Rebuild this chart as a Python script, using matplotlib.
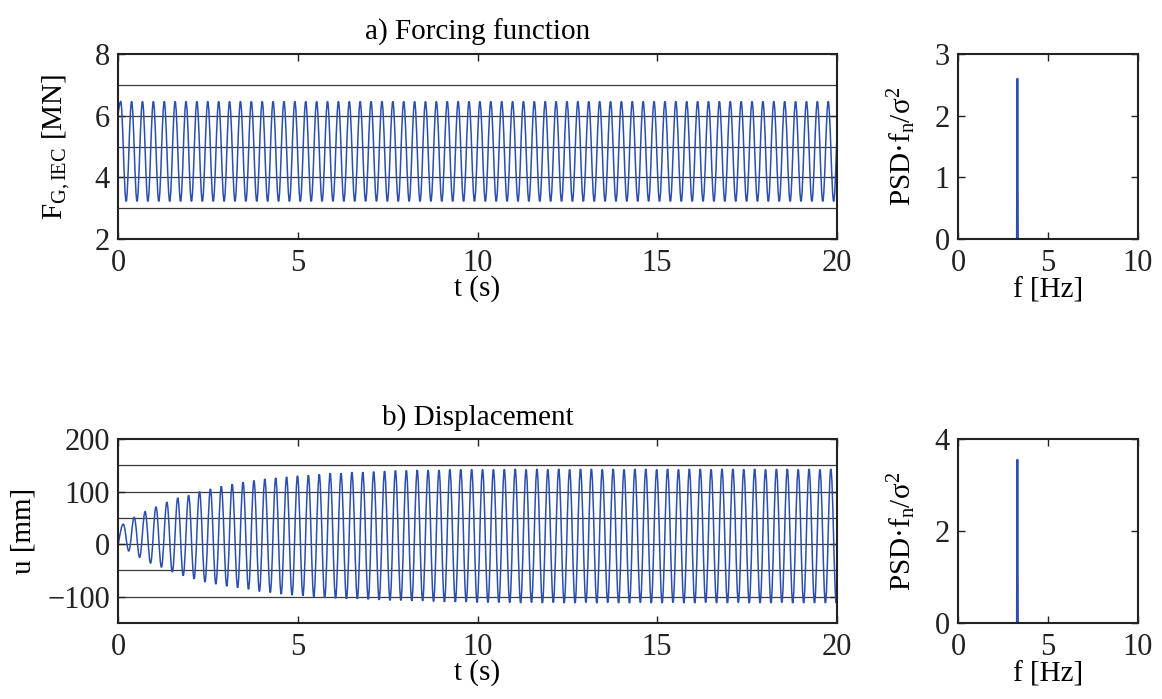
import numpy as np
import matplotlib
matplotlib.use("Agg")
import matplotlib.pyplot as plt
from matplotlib.path import Path
from matplotlib.patches import PathPatch

plt.rcParams["font.family"] = ["Liberation Serif", "DejaVu Serif"]
plt.rcParams["mathtext.fontset"] = "custom"
plt.rcParams["mathtext.rm"] = "Liberation Serif"
plt.rcParams["mathtext.it"] = "Liberation Serif:italic"
plt.rcParams["mathtext.bf"] = "Liberation Serif:bold"

# ---- data -------------------------------------------------------------
# excitation frequency of the harmonic load [Hz]
load_freq = 3.3

# a) forcing function: start value, time of first crest, crest / trough levels [MN]
force_start = [0.0, 6.1]
force_first_peak_t = 0.067
force_peaks = [6.46] * 67
force_troughs = [3.22] * 67

# b) displacement: start value, time of first crest, crest and trough per cycle [mm]
disp_start = [0.0, 0.0]
disp_first_peak_t = 0.14
disp_peaks = [38, 51, 62, 71, 80, 88, 93, 100, 105, 110, 114, 118, 121, 124,
              126, 128, 130, 131, 133, 135, 135, 137, 137, 138, 139, 140, 140,
              141, 141, 141, 142, 142, 142, 142, 142, 142, 143, 142, 143, 142,
              143, 142, 143, 143, 142, 143, 142, 143, 143, 142, 143, 142, 143,
              143, 142, 143, 143, 142, 143, 142, 143, 143, 142, 143, 142, 143,
              143]
disp_troughs = [-13, -25, -36, -44, -53, -60, -66, -72, -76, -80, -83, -86,
                -90, -92, -95, -97, -98, -100, -102, -103, -104, -104, -105,
                -106, -107, -107, -108, -108, -109, -110, -110, -110, -111,
                -111, -111, -111, -112, -111, -112, -111, -112, -112, -111,
                -112, -111, -112, -112, -111, -112, -112, -111, -112, -112,
                -111, -112, -112, -111, -112, -112, -112, -111, -112, -112,
                -112, -112, -112, -112]

# normalised power spectral densities
psd_freq = [0.0, 3.27, 3.30, 3.33, 10.0]
psd_force = [0.0, 0.0, 2.6, 0.0, 0.0]
psd_disp = [0.0, 0.0, 3.55, 0.0, 0.0]

# reference levels drawn across the time histories
force_levels = [3, 4, 5, 6, 7]
disp_levels = [-100, -50, 0, 50, 100, 150]

LINE = "#2b4fae"
REF = "#3a3a3a"
TICK_FS = 22
LABEL_FS = 21


def oscillation_path(start, first_peak_t, peaks, troughs, freq):
    """Smooth path through alternating crests and troughs (cubic Beziers)."""
    period = 1.0 / freq
    half = period / 2.0
    ext_t, ext_y = [], []
    for k, (p, q) in enumerate(zip(peaks, troughs)):
        ext_t += [first_peak_t + k * period, first_peak_t + k * period + half]
        ext_y += [p, q]
    verts = [tuple(start)]
    codes = [Path.MOVETO]
    t0, y0 = start
    t1, y1 = ext_t[0], ext_y[0]
    dt = t1 - t0
    verts += [(t0 + dt / 3, y0 + (y1 - y0) * 0.52), (t1 - dt / 3, y1), (t1, y1)]
    codes += [Path.CURVE4] * 3
    c = 0.3642
    for i in range(len(ext_t) - 1):
        t0, y0, t1, y1 = ext_t[i], ext_y[i], ext_t[i + 1], ext_y[i + 1]
        dt = t1 - t0
        verts += [(t0 + c * dt, y0), (t1 - c * dt, y1), (t1, y1)]
        codes += [Path.CURVE4] * 3
    return Path(verts, codes)


def style_axes(ax):
    ax.tick_params(direction="in", length=5, width=1.0, top=True, right=True,
                   labelsize=TICK_FS, colors="#222222")
    ax.tick_params(axis="x", pad=7)
    ax.tick_params(axis="y", pad=6)
    for s in ax.spines.values():
        s.set_linewidth(1.5)
        s.set_color("#222222")


fig = plt.figure(figsize=(11.62, 6.99), dpi=100)
W, H = 1162.0, 699.0


def add_ax(x0, x1, y0, y1):
    return fig.add_axes([x0 / W, 1 - y1 / H, (x1 - x0) / W, (y1 - y0) / H])


ax_f = add_ax(118.3, 836.7, 54, 239)
ax_fp = add_ax(958, 1138, 54, 239)
ax_u = add_ax(118.3, 836.7, 439, 623)
ax_up = add_ax(958, 1138, 439, 623)

PSD_LABEL = "PSD\u00b7f$_{\\mathrm{n}}$/\u03c3$^{\\mathrm{2}}$"

# a) forcing function
for lv in force_levels:
    ax_f.axhline(lv, color=REF, lw=0.9, zorder=1)
ax_f.add_patch(PathPatch(oscillation_path(force_start, force_first_peak_t,
                                          force_peaks, force_troughs, load_freq),
                         fill=False, edgecolor=LINE, lw=1.1, zorder=2))
ax_f.set_xlim(0, 20)
ax_f.set_ylim(2, 8)
ax_f.set_xticks([0, 5, 10, 15, 20])
ax_f.set_yticks([2, 4, 6, 8])
ax_f.set_xlabel("t (s)", fontsize=LABEL_FS, labelpad=-2)
ax_f.set_ylabel(r"F$_{\mathrm{G,IEC}}$ [MN]", fontsize=LABEL_FS, labelpad=16)
ax_f.set_title("a) Forcing function", fontsize=LABEL_FS, pad=10)
style_axes(ax_f)

ax_fp.plot(psd_freq, psd_force, color=LINE, lw=1.4)
ax_fp.set_xlim(0, 10)
ax_fp.set_ylim(0, 3)
ax_fp.set_xticks([0, 5, 10])
ax_fp.set_yticks([0, 1, 2, 3])
ax_fp.set_xlabel("f [Hz]", fontsize=LABEL_FS, labelpad=0)
ax_fp.set_ylabel(PSD_LABEL, fontsize=LABEL_FS, labelpad=12)
style_axes(ax_fp)

# b) displacement
for lv in disp_levels:
    ax_u.axhline(lv, color=REF, lw=0.9, zorder=1)
ax_u.add_patch(PathPatch(oscillation_path(disp_start, disp_first_peak_t,
                                          disp_peaks, disp_troughs, load_freq),
                         fill=False, edgecolor=LINE, lw=1.1, zorder=2))
ax_u.set_xlim(0, 20)
ax_u.set_ylim(-150, 200)
ax_u.set_xticks([0, 5, 10, 15, 20])
ax_u.set_yticks([-100, 0, 100, 200])
ax_u.set_yticklabels(["\u2212100", "0", "100", "200"])
ax_u.set_xlabel("t (s)", fontsize=LABEL_FS, labelpad=-2)
ax_u.set_ylabel("u [mm]", fontsize=LABEL_FS, labelpad=8)
ax_u.set_title("b) Displacement", fontsize=LABEL_FS, pad=10)
style_axes(ax_u)

ax_up.plot(psd_freq, psd_disp, color=LINE, lw=1.4)
ax_up.set_xlim(0, 10)
ax_up.set_ylim(0, 4)
ax_up.set_xticks([0, 5, 10])
ax_up.set_yticks([0, 2, 4])
ax_up.set_xlabel("f [Hz]", fontsize=LABEL_FS, labelpad=0)
ax_up.set_ylabel(PSD_LABEL, fontsize=LABEL_FS, labelpad=12)
style_axes(ax_up)

fig.savefig("out.png", dpi=100)
